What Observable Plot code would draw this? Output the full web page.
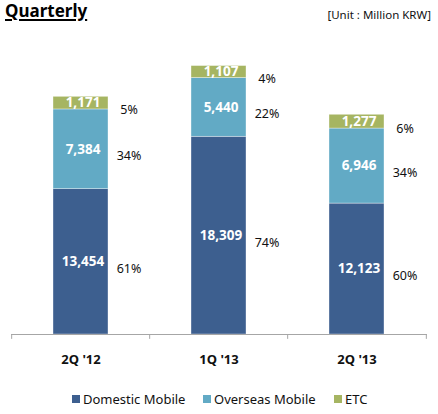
<!DOCTYPE html>
<html>
<head>
<meta charset="utf-8">
<script src="https://cdn.jsdelivr.net/npm/d3@7"></script>
<script src="https://cdn.jsdelivr.net/npm/@observablehq/plot@0.6"></script>
<style>
  html, body { margin: 0; padding: 0; background: #fff; }
  #wrap { position: relative; width: 438px; height: 414px; font-family: "Noto Sans", sans-serif; }
  #title { position: absolute; left: 5px; top: 1px; font-size: 17px; line-height: 20px; font-weight: bold; text-decoration: underline; text-decoration-thickness: 1.5px; text-underline-offset: 2px; color: #000; }
  #unit { position: absolute; right: 7px; top: 8px; font-size: 11.5px; line-height: 14px; color: #111; }
  #chart { position: absolute; left: 0; top: 0; }
  .lg { position: absolute; top: 391px; font-size: 13px; line-height: 16px; color: #111; display: flex; align-items: center; white-space: nowrap; }
  .sw { width: 8px; height: 8px; margin-right: 3px; display: inline-block; }
</style>
</head>
<body>
<div id="wrap">
  <div id="chart"></div>
  <div id="title">Quarterly</div>
  <div id="unit">[Unit : Million KRW]</div>
  <div id="legend"></div>
</div>
<script>
const categories = ["2Q '12", "1Q '13", "2Q '13"];
const series = ["Domestic Mobile", "Overseas Mobile", "ETC"];
const domestic = [13454, 18309, 12123];
const overseas = [7384, 5440, 6946];
const etc = [1171, 1107, 1277];
const domesticPct = ["61%", "74%", "60%"];
const overseasPct = ["34%", "22%", "34%"];
const etcPct = ["5%", "4%", "6%"];
const colors = ["#3d5f8f", "#62aac5", "#a6b562"];

const values = [domestic, overseas, etc];
const pcts = [domesticPct, overseasPct, etcPct];
const rows = [];
series.forEach((s, si) => {
  categories.forEach((c, ci) => {
    rows.push({cat: c, series: s, value: values[si][ci], pct: pcts[si][ci]});
  });
});

const W = 438, H = 414, ML = 11, MR = 11;
const step = (W - ML - MR) / categories.length;
const fmt = d3.format(",");

const chart = Plot.plot({
  width: W,
  height: H,
  marginLeft: ML,
  marginRight: MR,
  marginTop: 10,
  marginBottom: 80,
  style: {fontFamily: "Noto Sans, sans-serif", background: "transparent"},
  x: {domain: categories, paddingInner: 0.6, paddingOuter: 0.3, label: null},
  y: {domain: [0, 30000], axis: null},
  color: {domain: series, range: colors},
  marks: [
    Plot.barY(rows, {x: "cat", y: "value", z: "series", fill: "series", stroke: "#ffffff", strokeWidth: 0.6, strokeOpacity: 0.6}),
    Plot.text(rows, Plot.stackY({x: "cat", y: "value", z: "series", text: d => fmt(d.value), fill: "white", fontWeight: "bold", fontSize: 13.5, dx: 2})),
    Plot.text(rows, Plot.stackY({x: "cat", y: "value", z: "series", text: "pct", fill: "#111", fontSize: 12.5, dx: 48, dy: 7})),
    Plot.ruleY([0], {stroke: "#a6a6a6", strokeWidth: 1}),
    Plot.ruleX(categories, {x: d => d, y1: 0, y2: -450, dx: -step / 2, stroke: "#a6a6a6"}),
    Plot.ruleX([categories[categories.length - 1]], {x: d => d, y1: 0, y2: -450, dx: step / 2, stroke: "#a6a6a6"}),
    Plot.axisX({tickSize: 0, tickPadding: 20, fontSize: 13, fontWeight: "bold", fill: "#111"})
  ]
});
document.getElementById("chart").appendChild(chart);

const legendLeft = [72, 203, 334];
const legend = document.getElementById("legend");
series.forEach((s, i) => {
  const item = document.createElement("div");
  item.className = "lg";
  item.style.left = legendLeft[i] + "px";
  item.innerHTML = `<span class="sw" style="background:${colors[i]}"></span><span>${s}</span>`;
  legend.appendChild(item);
});
</script>
</body>
</html>
